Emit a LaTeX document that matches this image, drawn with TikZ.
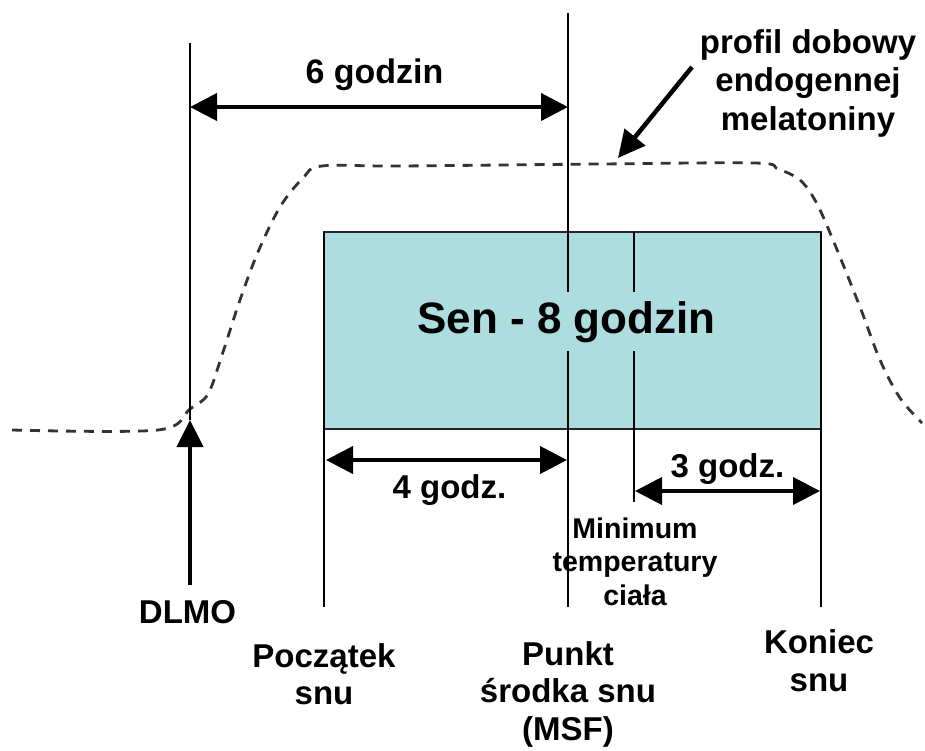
\documentclass[tikz,border=0pt]{standalone}
\usepackage{fontspec}
\setmainfont{Liberation Sans}
\usetikzlibrary{arrows.meta}
\definecolor{sleepfill}{RGB}{173,221,222}
\begin{document}
\begin{tikzpicture}[x=1pt,y=-1pt,
  lbl/.style={font=\bfseries\fontsize{33}{37.5}\selectfont, align=center, inner sep=0pt, anchor=base},
  vline/.style={line width=1.3pt, draw=black},
  dimarrow/.style={line width=4pt, {Triangle[length=27pt,width=27pt]}-{Triangle[length=27pt,width=27pt]}},
  onearrow/.style={line width=4.5pt, -{Triangle[length=27pt,width=26pt]}},
  profile/.style={line width=2.8pt, dash pattern=on 10pt off 8pt, draw=black!80},
  sleepbox/.style={draw=black!85, line width=1.5pt, fill=sleepfill, inner sep=0pt}
]
\useasboundingbox (0,0) rectangle (925,750);

% melatonin profile
\draw[profile] plot[smooth, tension=0.55] coordinates {
  (12,430) (158,430) (190,409) (208,394) (222,355) (240,300) (258,252)
  (280,207) (303,178) (322,166) (400,166) (600,164) (755,163)
  (778,169) (800,180) (816,202) (833,240) (860,307) (880,360) (900,398) (922,423)};

% sleep box
\node[sleepbox, minimum width=497pt, minimum height=197pt] (box) at (572.5,330.5) {};

% coordinates
\coordinate (dlmoTop) at (190,43);
\coordinate (dlmoTip) at (190,420);
\coordinate (dlmoFoot) at (190,585);
\coordinate (startTop) at (324,232);
\coordinate (startBot) at (324,607);
\coordinate (midTop) at (568,13);
\coordinate (midBot) at (568,607);
\coordinate (tminTop) at (634,232);
\coordinate (tminBot) at (634,502);
\coordinate (endTop) at (821,232);
\coordinate (endBot) at (821,607);

\draw[vline] (dlmoTop) -- (dlmoTip);
\draw[vline] (startTop) -- (startBot);
\draw[vline] (midTop) -- (midBot);
\draw[vline] (tminTop) -- (tminBot);
\draw[vline] (endTop) -- (endBot);

% text in the box (covers the inner lines)
\node[font=\bfseries\fontsize{44}{50}\selectfont, fill=sleepfill, inner xsep=5pt, inner ysep=9pt, anchor=base] (sen) at (566.5,333) {Sen - 8 godzin};

% dimension arrows
\coordinate (sixL) at (190,107);
\coordinate (sixR) at (568,107);
\draw[dimarrow] (sixL) -- (sixR);
\coordinate (fourL) at (326,460);
\coordinate (fourR) at (567,460);
\draw[dimarrow] (fourL) -- (fourR);
\coordinate (threeL) at (635,491);
\coordinate (threeR) at (820,491);
\draw[dimarrow] (threeL) -- (threeR);

% DLMO arrow
\draw[onearrow] (dlmoFoot) -- (dlmoTip);

% profile arrow
\coordinate (profTail) at (692,67);
\coordinate (profTip) at (618,158);
\draw[onearrow] (profTail) -- (profTip);

% labels (anchor=base of a multi-line node is the baseline of its last line)
\node[lbl, font=\bfseries\fontsize{34}{38}\selectfont] (six) at (374.5,83) {6 godzin};
\node[lbl, font=\bfseries\fontsize{33}{38.5}\selectfont] (prof) at (808,130) {profil dobowy\\endogennej\\melatoniny};
\node[lbl] (four) at (449.5,498) {4 godz.};
\node[lbl] (three) at (727.5,477) {3 godz.};
\node[lbl, font=\bfseries\fontsize{28.5}{33.5}\selectfont] (tmin) at (635,605) {Minimum\\temperatury\\ciała};
\node[lbl] (dlmo) at (187.5,623) {DLMO};
\node[lbl, font=\bfseries\fontsize{33}{37}\selectfont] (start) at (324,704) {Początek\\snu};
\node[lbl] (mid) at (568,740) {Punkt\\środka snu\\(MSF)};
\node[lbl, font=\bfseries\fontsize{33}{38}\selectfont] (end) at (819,691) {Koniec\\snu};
\end{tikzpicture}
\end{document}
